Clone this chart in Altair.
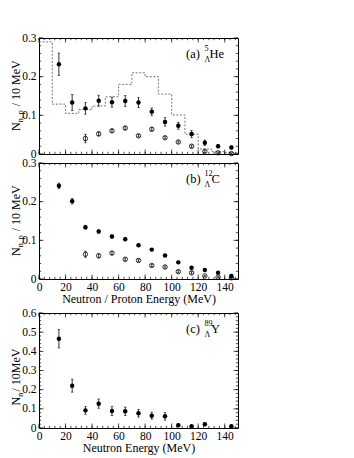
import altair as alt
import pandas as pd

FONT = "Liberation Serif"
W = 199

# ---------------- data ----------------
energy = [15, 25, 35, 45, 55, 65, 75, 85, 95, 105, 115, 125, 135, 145]

# (a) 5-Lambda-He
he_n_val = [0.232, 0.133, 0.118, 0.138, 0.134, 0.137, 0.133, 0.109, 0.083, 0.073, 0.052, 0.029, 0.020, 0.017]
he_n_err = [0.029, 0.021, 0.015, 0.014, 0.013, 0.014, 0.013, 0.010, 0.011, 0.009, 0.009, 0.007, 0.004, 0.004]
he_p_energy = [35, 45, 55, 65, 75, 85, 95, 105, 115, 125, 135, 145]
he_p_val = [0.040, 0.052, 0.060, 0.067, 0.047, 0.064, 0.042, 0.031, 0.020, 0.007, 0.003, 0.001]
he_p_err = [0.011, 0.005, 0.004, 0.004, 0.003, 0.004, 0.003, 0.003, 0.003, 0.003, 0.002, 0.002]
he_hist_edges = [0, 10, 20, 30, 40, 50, 60, 70, 80, 90, 100, 110, 120, 130, 140, 150]
he_hist_val = [0.290, 0.129, 0.105, 0.115, 0.124, 0.148, 0.180, 0.210, 0.200, 0.155, 0.101, 0.051, 0.013, 0.006, 0.003]

# (b) 12-Lambda-C
c_n_val = [0.241, 0.201, 0.134, 0.123, 0.110, 0.103, 0.087, 0.076, 0.061, 0.043, 0.029, 0.023, 0.016, 0.008]
c_n_err = [0.007, 0.007, 0.005, 0.004, 0.004, 0.004, 0.003, 0.003, 0.003, 0.003, 0.002, 0.002, 0.002, 0.002]
c_p_energy = [35, 45, 55, 65, 75, 85, 95, 105, 115, 125, 135, 145]
c_p_val = [0.064, 0.060, 0.067, 0.051, 0.048, 0.035, 0.031, 0.019, 0.016, 0.008, 0.005, 0.003]
c_p_err = [0.008, 0.005, 0.004, 0.003, 0.003, 0.003, 0.003, 0.003, 0.003, 0.002, 0.002, 0.002]

# (c) 89-Lambda-Y
y_energy = [15, 25, 35, 45, 55, 65, 75, 85, 95, 105, 115, 125, 145]
y_n_val = [0.466, 0.221, 0.092, 0.127, 0.089, 0.087, 0.077, 0.064, 0.061, 0.014, 0.009, 0.019, 0.009]
y_n_err = [0.048, 0.034, 0.020, 0.024, 0.024, 0.022, 0.020, 0.018, 0.020, 0.006, 0.005, 0.007, 0.005]

# ticks
x_major = [0, 20, 40, 60, 80, 100, 120, 140]
x_minor = list(range(0, 151, 4))
y_major_03 = [0, 0.1, 0.2, 0.3]
y_minor_03 = [i * 0.02 for i in range(16)]
y_major_06 = [0, 0.1, 0.2, 0.3, 0.4, 0.5, 0.6]
y_minor_06 = [i * 0.02 for i in range(31)]

AXSTYLE = dict(labelFont=FONT, titleFont=FONT, labelFontSize=11.5, titleFontSize=12,
               labelColor="black", titleColor="black", titleFontWeight="normal",
               labelFontWeight="normal", ticks=False, domain=False, grid=False,
               labelOverlap=False, labelFlush=False)


def df_err(xv, val, err):
    return pd.DataFrame({"E": xv, "v": val,
                         "lo": [a - b for a, b in zip(val, err)],
                         "hi": [a + b for a, b in zip(val, err)]})


def txt(s, x, y, size, angle=0, align="left", baseline="alphabetic"):
    kw = dict(text=s, font=FONT, fontSize=size, color="black", align=align, baseline=baseline)
    if angle:
        kw["angle"] = angle
    return alt.Chart(pd.DataFrame({"d": [0]})).mark_text(**kw).encode(
        x=alt.value(x), y=alt.value(y))


def panel(h, ymax, ymaj, ymin, filled, opened=None, hist=None, xtitle=None,
          ytitle=("N", "n, p", "/ 10 MeV"), tag=("(a)", "5", "He", 170.5)):
    xs = alt.Scale(domain=[0, 150], nice=False, zero=False)
    ys = alt.Scale(domain=[0, ymax], nice=False)
    if xtitle:
        xaxis = alt.Axis(values=x_major, title=xtitle, labels=True, format="d",
                         labelPadding=2, titlePadding=1, **AXSTYLE)
    else:
        xaxis = alt.Axis(values=x_major, labels=False, title=None, **AXSTYLE)
    yaxis = alt.Axis(values=ymaj, title=None, labels=True, labelPadding=3,
                     labelExpr="datum.value == 0 ? '0' : format(datum.value, '.1f')",
                     **AXSTYLE)

    def X(f):
        return alt.X(f, scale=xs, axis=xaxis)

    def Y(f):
        return alt.Y(f, scale=ys, axis=yaxis)

    layers = []
    if hist is not None:
        hx, hv = hist
        hd = pd.DataFrame({"E": hx, "v": hv + [hv[-1]]})
        layers.append(alt.Chart(hd).mark_line(interpolate="step-after", color="#666666",
                                              strokeWidth=0.9, strokeDash=[2, 1.6]).encode(
            x=X("E:Q"), y=Y("v:Q")))

    def errs(d):
        bars = alt.Chart(d).mark_rule(color="black", strokeWidth=0.8).encode(
            x=X("E:Q"), y=Y("lo:Q"), y2="hi:Q")
        caps = [alt.Chart(d).mark_tick(color="black", orient="horizontal", size=2.5,
                                       thickness=0.8).encode(x=X("E:Q"), y=Y(f + ":Q"))
                for f in ("lo", "hi")]
        return [bars] + caps

    if opened is not None:
        od = df_err(*opened)
        layers += errs(od)
        layers.append(alt.Chart(od).mark_point(shape="circle", filled=False, color="black",
                                               size=20, strokeWidth=0.8, opacity=1).encode(
            x=X("E:Q"), y=Y("v:Q")))
    fd = df_err(*filled)
    layers += errs(fd)
    layers.append(alt.Chart(fd).mark_point(shape="circle", filled=True, color="black",
                                           size=20, opacity=1).encode(
        x=X("E:Q"), y=Y("v:Q")))
    # inward ticks on all four sides
    for vals, L in ((x_major, 4.5), (x_minor, 2.2)):
        base = alt.Chart(pd.DataFrame({"E": vals})).mark_rule(color="black", strokeWidth=0.7)
        layers.append(base.encode(x=X("E:Q"), y=alt.value(h), y2=alt.value(h - L)))
        layers.append(base.encode(x=X("E:Q"), y=alt.value(0), y2=alt.value(L)))
    for vals, L in ((ymaj, 4.5), (ymin, 2.2)):
        base = alt.Chart(pd.DataFrame({"v": vals})).mark_rule(color="black", strokeWidth=0.7)
        layers.append(base.encode(y=Y("v:Q"), x=alt.value(0), x2=alt.value(L)))
        layers.append(base.encode(y=Y("v:Q"), x=alt.value(W), x2=alt.value(W - L)))
    # y-axis title, rotated
    t_main, t_sub, t_rest = ytitle
    ybase = h / 2 + 35
    layers.append(txt(t_main, -19.5, ybase, 12, angle=270))
    layers.append(txt(t_sub, -16.5, ybase - 8.8, 8, angle=270))
    layers.append(txt(t_rest, -19.5, ybase - 8.8 - len(t_sub) * 3.6 - 1.5, 12, angle=270))
    # panel tag
    lab, sup, nuc, nx = tag
    layers.append(txt(lab, 147, 20, 12.5))
    layers.append(txt(sup, 165.5, 13, 8))
    layers.append(txt("\u039b", 165.5, 24, 8))
    layers.append(txt(nuc, nx, 20, 12.5))
    return alt.layer(*layers).properties(width=W, height=h)


pa = panel(116, 0.3, y_major_03, y_minor_03,
           (energy, he_n_val, he_n_err),
           (he_p_energy, he_p_val, he_p_err),
           (he_hist_edges, he_hist_val),
           tag=("(a)", "5", "He", 170.5))
pb = panel(116, 0.3, y_major_03, y_minor_03,
           (energy, c_n_val, c_n_err),
           (c_p_energy, c_p_val, c_p_err),
           xtitle="Neutron / Proton Energy (MeV)",
           tag=("(b)", "12", "C", 172.5))
pc = panel(115, 0.6, y_major_06, y_minor_06,
           (y_energy, y_n_val, y_n_err),
           xtitle="Neutron Energy (MeV)",
           ytitle=("N", "n", "/ 10MeV"),
           tag=("(c)", "89", "Y", 172))

# invisible spacer panel to open the gap between (b) and (c)
spacer = alt.Chart(pd.DataFrame({"d": [0]})).mark_point(opacity=0).encode(
    x=alt.X("d:Q", axis=None), y=alt.Y("d:Q", axis=None)
).properties(width=W, height=16, view=alt.ViewConfig(stroke="transparent"))

chart = alt.vconcat(pa, pb, spacer, pc, spacing=9, bounds="flush").properties(
    padding={"left": 0, "top": 23, "right": 5, "bottom": 5}, background="white"
).configure_view(stroke="black", strokeWidth=1).configure_axis(
    ticks=False, domain=False, grid=False, labelOverlap=False, labelFlush=False,
    labelFont=FONT, titleFont=FONT, labelFontSize=11.5, titleFontSize=12,
    labelColor="black", titleColor="black", titleFontWeight="normal"
)

chart.save("out.html", embed_options={"renderer": "svg", "actions": False})
